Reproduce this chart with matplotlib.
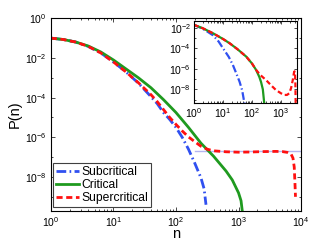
import numpy as np
import matplotlib
matplotlib.use('Agg')
import matplotlib.pyplot as plt
from matplotlib.ticker import LogLocator, NullFormatter

plt.rcParams['font.family'] = ['Liberation Sans', 'DejaVu Sans']
plt.rcParams['mathtext.fontset'] = 'custom'
plt.rcParams['mathtext.rm'] = 'Liberation Sans'

# main panel, values as log10(n), log10(P)
sub_logn = [0, 0.2, 0.4, 0.6, 0.8, 1.0, 1.2, 1.4, 1.6, 1.7, 1.8, 1.9, 2.0, 2.1, 2.2, 2.3, 2.4, 2.45, 2.48]
sub_logp = [-1.0, -1.07, -1.2, -1.42, -1.75, -2.2, -2.7, -3.27, -3.95, -4.3, -4.75, -5.1, -5.5,
            -6.0, -6.6, -7.3, -8.05, -8.6, -9.4]

crit_logn = [0, 0.2, 0.4, 0.6, 0.8, 1.0, 1.2, 1.4, 1.6, 1.8, 2.0, 2.2, 2.4, 2.6, 2.8, 2.9, 3.0, 3.04, 3.06]
crit_logp = [-1.0, -1.07, -1.2, -1.4, -1.7, -2.1, -2.55, -3.0, -3.5, -4.1, -4.75, -5.5, -6.3,
             -6.95, -7.7, -8.15, -8.8, -9.2, -9.72]

sup_logn = [0, 0.2, 0.4, 0.6, 0.8, 1.0, 1.2, 1.4, 1.6, 1.7, 1.8, 1.9, 2.0, 2.1, 2.2, 2.3, 2.4, 2.5,
            2.6, 2.8, 3.0, 3.2, 3.4, 3.6, 3.7, 3.78, 3.84, 3.87, 3.89, 3.90, 3.91]
sup_logp = [-1.0, -1.07, -1.2, -1.42, -1.75, -2.2, -2.7, -3.25, -3.85, -4.2, -4.6, -5.0, -5.35,
            -5.68, -5.98, -6.22, -6.45, -6.6, -6.68, -6.73, -6.75, -6.74, -6.72, -6.71, -6.72,
            -6.76, -6.85, -7.05, -7.5, -8.2, -9.0]

ref_level = 10**-6.69
ref_n = [200, 1e4]

# inset panel
in_sub_logn = [0, 0.3, 0.5, 0.66, 0.85, 1.0, 1.2, 1.34, 1.45, 1.57, 1.66, 1.74]
in_sub_logp = [-1.72, -2.1, -2.45, -2.75, -3.35, -4.0, -4.85, -5.63, -6.4, -7.26, -8.1, -9.4]

in_crit_logn = [0, 0.3, 0.66, 1.0, 1.23, 1.5, 1.8, 2.0, 2.14, 2.25, 2.31, 2.37, 2.42]
in_crit_logp = [-1.72, -2.05, -2.55, -3.1, -3.52, -4.1, -4.82, -5.5, -6.12, -6.8, -7.3, -8.0, -9.4]

in_sup_logn = [0, 0.3, 0.66, 1.0, 1.23, 1.5, 1.8, 2.0, 2.14, 2.3, 2.48, 2.65, 2.82, 3.0, 3.11,
               3.2, 3.28, 3.34, 3.40, 3.44, 3.46, 3.48, 3.49, 3.50]
in_sup_logp = [-1.72, -2.05, -2.55, -3.1, -3.52, -4.1, -4.82, -5.5, -6.12, -6.65, -7.1, -7.6,
               -8.07, -8.4, -8.55, -8.55, -8.39, -7.9, -7.1, -6.4, -6.25, -6.6, -7.5, -9.5]

blue = '#3050f0'
green = '#1f9a1f'
red = '#ff1010'

def tp(a):
    return 10**np.array(a)

fig = plt.figure(figsize=(3.32, 2.47), dpi=100)
ax = fig.add_axes([0.153, 0.147, 0.754, 0.779])

ax.plot(ref_n, [ref_level, ref_level], color='#b4b4f0', lw=1.0)
ax.plot(tp(sub_logn), tp(sub_logp), color=blue, lw=2, dashes=(3.5, 1.2, 0.6, 1.2), label='Subcritical')
ax.plot(tp(crit_logn), tp(crit_logp), color=green, lw=2, label='Critical')
ax.plot(tp(sup_logn), tp(sup_logp), color=red, lw=2, dashes=(2.2, 1.3), label='Supercritical')

ax.set_xscale('log')
ax.set_yscale('log')
ax.set_xlim(1, 1e4)
ax.set_ylim(2e-10, 1)
ax.set_yticks([1, 1e-2, 1e-4, 1e-6, 1e-8])
ax.yaxis.set_minor_locator(LogLocator(base=10, subs=[1.0], numticks=20))
ax.yaxis.set_minor_formatter(NullFormatter())
ax.set_xticks([1, 10, 100, 1e3, 1e4])
ax.xaxis.set_minor_locator(LogLocator(base=10, subs=np.arange(2, 10), numticks=20))
ax.xaxis.set_minor_formatter(NullFormatter())
ax.tick_params(which='both', direction='in', top=True, right=True, labelsize=7.5, width=0.5)
ax.tick_params(which='major', length=3, pad=3)
ax.tick_params(which='minor', length=1.5)
for s in ax.spines.values():
    s.set_linewidth(0.8)
ax.set_xlabel('n', fontsize=10.5, labelpad=-1)
ax.set_ylabel('P(n)', fontsize=10.5, labelpad=2)

leg = ax.legend(loc='lower left', bbox_to_anchor=(0.01, 0.018), borderaxespad=0,
                fontsize=8.7, fancybox=False, framealpha=1, edgecolor='#404040',
                handlelength=1.9, handletextpad=0.2, labelspacing=0.1, borderpad=0.25)
leg.get_frame().set_linewidth(0.8)

# inset
ins = fig.add_axes([0.584, 0.582, 0.311, 0.333])
ins.plot(tp(in_sub_logn), tp(in_sub_logp), color=blue, lw=1.6, dashes=(3.5, 1.2, 0.6, 1.2))
ins.plot(tp(in_crit_logn), tp(in_crit_logp), color=green, lw=1.6)
ins.plot(tp(in_sup_logn), tp(in_sup_logp), color=red, lw=1.6, dashes=(2.2, 1.3))
ins.set_xscale('log')
ins.set_yscale('log')
ins.set_xlim(1, 10**3.55)
ins.set_ylim(10**-9.36, 10**-1.35)
ins.set_xticks([1, 10, 100, 1e3])
ins.set_yticks([1e-2, 1e-4, 1e-6, 1e-8])
ins.xaxis.set_minor_locator(LogLocator(base=10, subs=np.arange(2, 10), numticks=20))
ins.xaxis.set_minor_formatter(NullFormatter())
ins.yaxis.set_minor_locator(LogLocator(base=10, subs=[1.0], numticks=20))
ins.yaxis.set_minor_formatter(NullFormatter())
ins.tick_params(which='both', direction='in', top=True, right=True, labelsize=7.5, width=0.5)
ins.tick_params(which='major', length=2.5, pad=2)
ins.tick_params(which='minor', length=1.2)
for s in ins.spines.values():
    s.set_linewidth(0.8)

fig.savefig('out.png', dpi=100)
